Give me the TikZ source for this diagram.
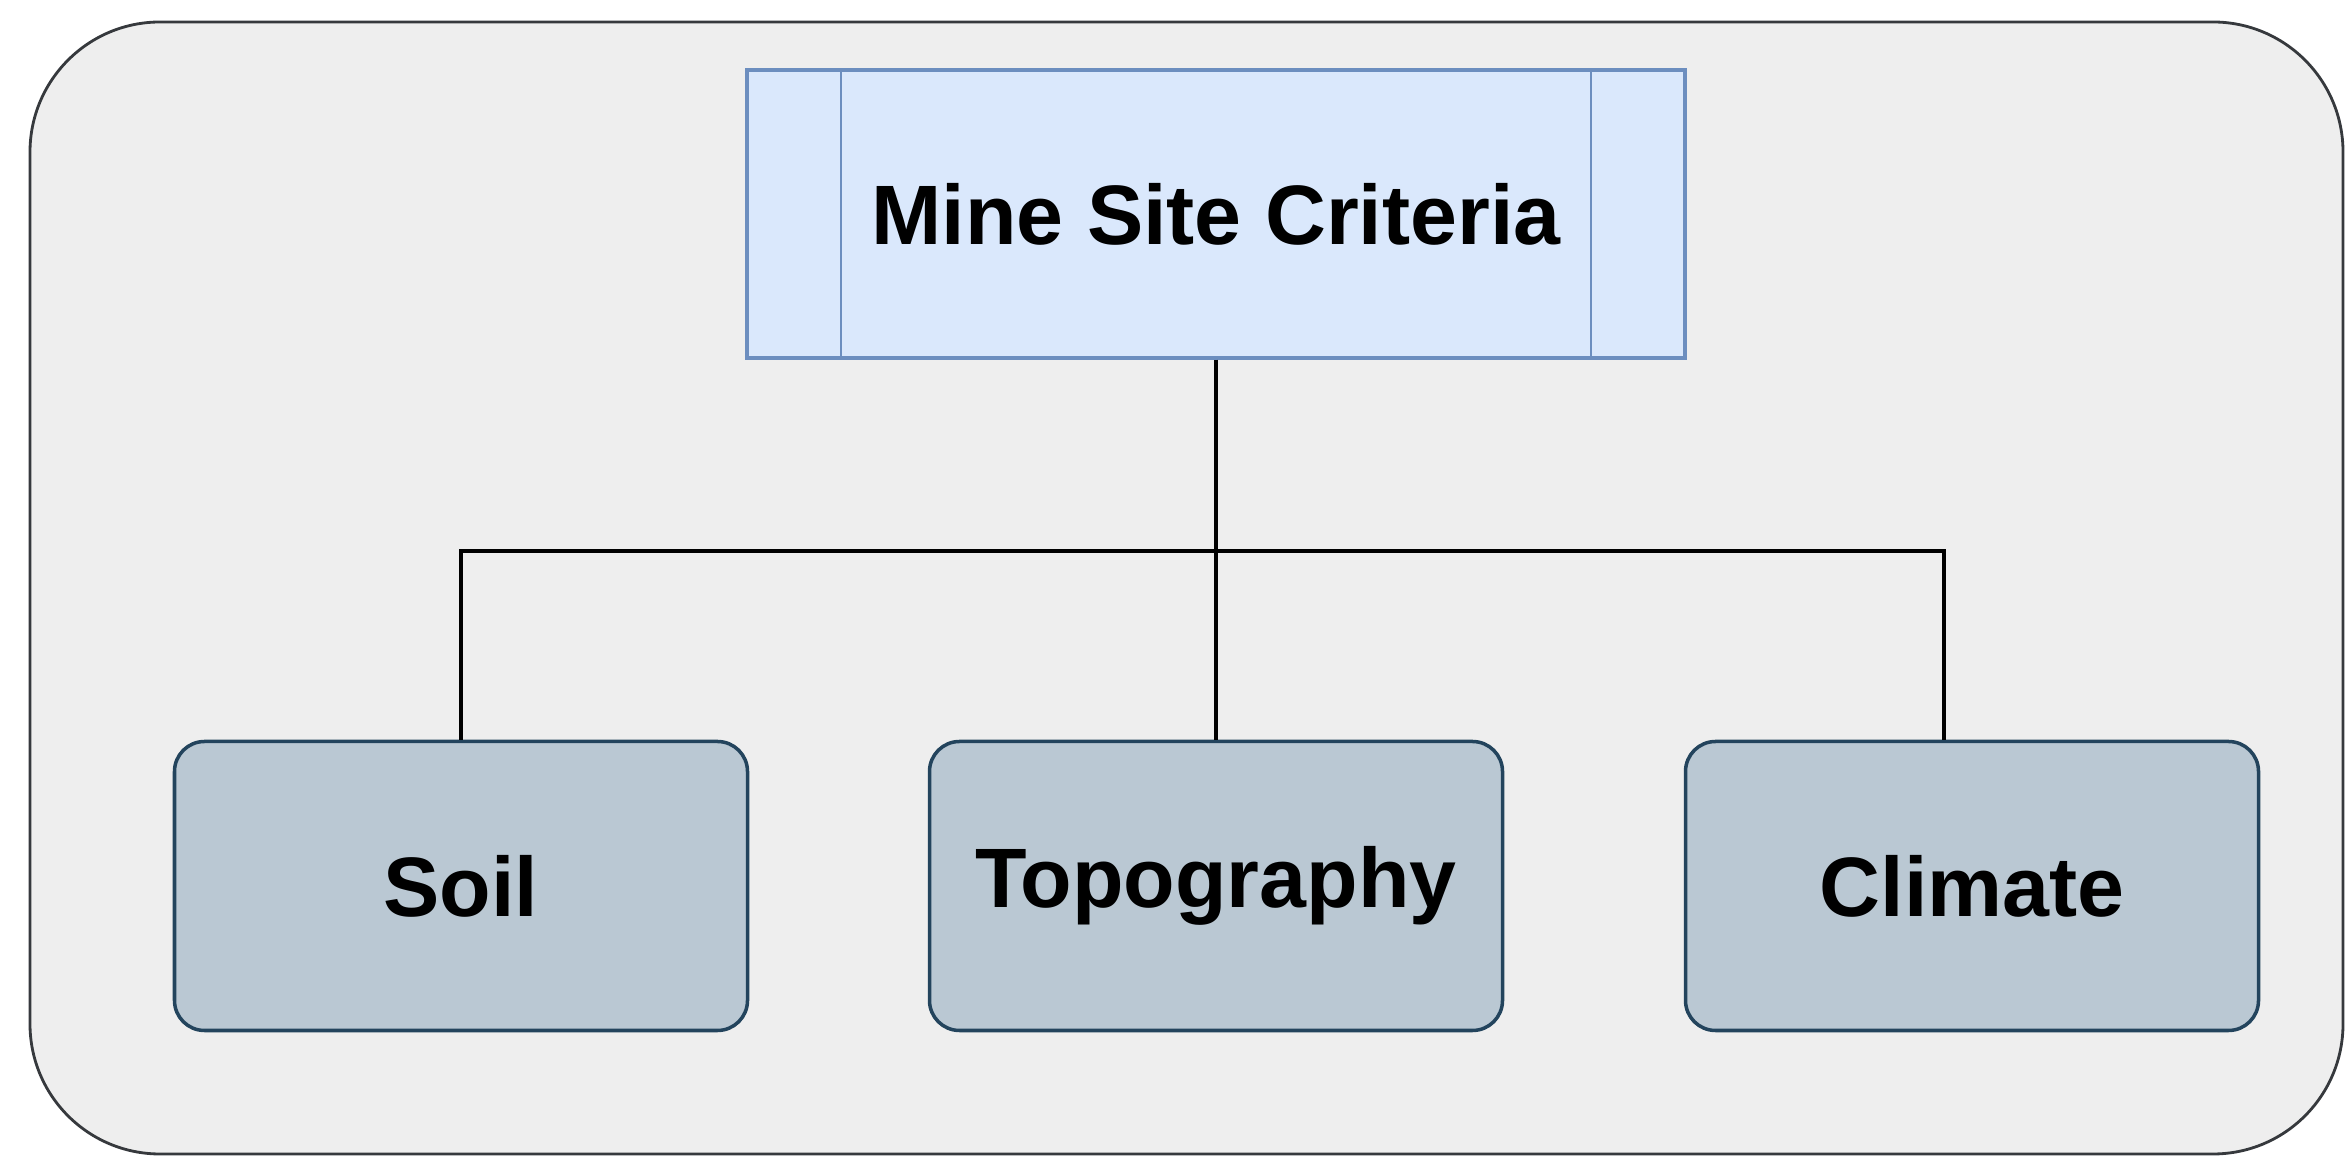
\documentclass[tikz,border=0pt]{standalone}
\usepackage{xcolor}
\usepackage{fontspec}
\setmainfont{Liberation Sans}

\definecolor{critfill}{HTML}{DAE8FC}
\definecolor{critline}{HTML}{6C8EBF}
\definecolor{leaffill}{HTML}{BAC8D3}
\definecolor{leafline}{HTML}{23445D}
\definecolor{framefill}{HTML}{EEEEEE}
\definecolor{frameline}{HTML}{36393D}

\begin{document}
\begin{tikzpicture}
	\useasboundingbox (0, 0) rectangle (23.47, 11.58);

	% Draw the frame
	\draw[line width=0.8pt, color=frameline, fill=framefill, rounded corners=1.3cm] (0.30, 0.04) rectangle (23.43, 11.36);

	\node[draw, line width=1pt, color=critline, fill=critfill, minimum width=9.38cm, minimum height=2.88cm, text=black, font=\bfseries\fontsize{24}{28}\selectfont] (crit) at (12.16, 9.44) {Mine Site Criteria};
	\draw[line width=0.6pt, color=critline] ([xshift=0.96cm]crit.north west) -- ([xshift=0.96cm]crit.south west);
	\draw[line width=0.6pt, color=critline] ([xshift=-0.96cm]crit.north east) -- ([xshift=-0.96cm]crit.south east);

	\node[draw, line width=1pt, color=leafline, fill=leaffill, rounded corners=0.3cm, minimum width=5.73cm, minimum height=2.89cm, text=black, font=\bfseries\fontsize{24}{28}\selectfont] (soil) at (4.61, 2.72) {Soil};
	\node[draw, line width=1pt, color=leafline, fill=leaffill, rounded corners=0.3cm, minimum width=5.73cm, minimum height=2.89cm, text=black, font=\bfseries\fontsize{24}{28}\selectfont] (topo) at (12.16, 2.72) {Topography};
	\node[draw, line width=1pt, color=leafline, fill=leaffill, rounded corners=0.3cm, minimum width=5.73cm, minimum height=2.89cm, text=black, font=\bfseries\fontsize{24}{28}\selectfont] (clim) at (19.72, 2.72) {Climate};

	\coordinate (j) at (12.16, 6.07);

	% Draw the edges between nodes
	\draw[line width=0.9pt, color=black] (crit) -- (j);
	\draw[line width=0.9pt, color=black] (j) -- (topo);
	\draw[line width=0.9pt, color=black] (soil) |- (j) -| ([xshift=-0.28cm]clim.north);
\end{tikzpicture}
\end{document}
